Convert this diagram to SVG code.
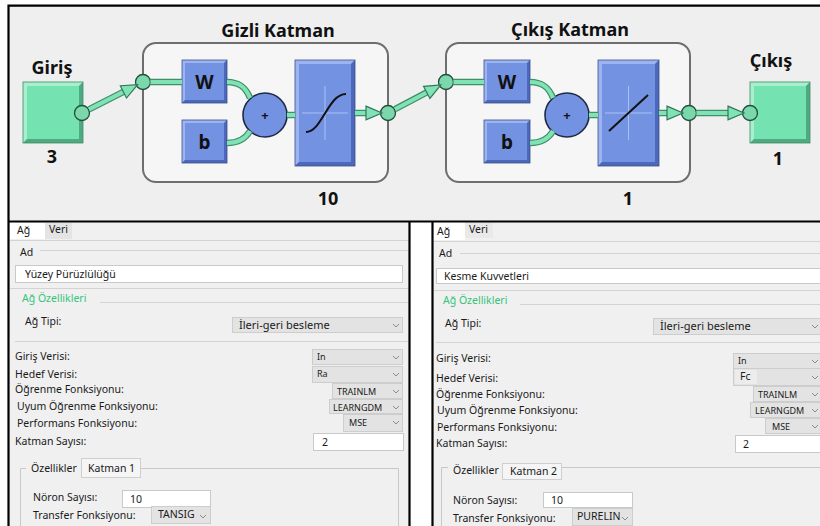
<svg xmlns="http://www.w3.org/2000/svg" width="820" height="526" viewBox="0 0 820 526">
<style>
.bg{fill:#efefef}
.panel{fill:#f0f0f0}
.bl{stroke:#000;stroke-width:2.2;fill:none}
.layer{fill:#f6f6f6;stroke:#6e6e6e;stroke-width:2}
.gface{fill:#74e2b1}
.ghi{fill:#a6f0cd}
.gsh{fill:#4eab80}
.gout{fill:none;stroke:#3f8c68;stroke-width:0.8}
.bface{fill:#7393e2}
.bhi{fill:#9db4f1}
.bsh{fill:#4c68ba}
.bout{fill:none;stroke:#3b4f8c;stroke-width:0.8}
.edge{fill:none;stroke:#3f8f69;stroke-width:6.5}
.wire{fill:none;stroke:#80e2b5;stroke-width:4}
.port{fill:#7bd8ac;stroke:#234d3a;stroke-width:1.3}
.sum{fill:#7393e2;stroke:#1f2a44;stroke-width:1.6}
.xh{stroke:#aac0f3;stroke-width:1}
.fn{fill:none;stroke:#111;stroke-width:2}
.title{font-family:"Noto Sans","Open Sans",sans-serif;font-weight:bold;font-size:18px;fill:#111;text-anchor:middle}
.sym{font-family:"Noto Sans","Open Sans",sans-serif;font-weight:bold;font-size:19px;fill:#111;text-anchor:middle}
.plus{font-family:"Noto Sans",sans-serif;font-weight:bold;font-size:13px;fill:#111;text-anchor:middle}
.ui{font-family:"Noto Sans","Open Sans",sans-serif;font-size:10.5px;fill:#1a1a1a}
.uim{font-family:"Noto Sans","Open Sans",sans-serif;font-size:11px;fill:#1a1a1a}
.uis{font-family:"Noto Sans","Open Sans",sans-serif;font-size:9px;fill:#1a1a1a}
.grn{font-family:"Noto Sans","Open Sans",sans-serif;font-size:10.5px;fill:#35c47b}
.dd{fill:#e3e3e3;stroke:#cdcdcd;stroke-width:1}
.fld{fill:#fff;stroke:#c9c9c9;stroke-width:1}
.tab{fill:#f5f5f5;stroke:#cfcfcf;stroke-width:1}
.sep{stroke:#d3d3d3;stroke-width:1;fill:none}
.grp{stroke:#c8c8c8;stroke-width:1;fill:none}
.chev{fill:none;stroke:#8c8c8c;stroke-width:1}
</style>
<defs>
<marker id="arr" markerUnits="userSpaceOnUse" markerWidth="16" markerHeight="14" viewBox="0 0 14 12" refX="0" refY="6" orient="auto" overflow="visible">
<path d="M0,0 L14,6 L0,12 z" fill="#80e2b5" stroke="#2f7556" stroke-width="1"/>
</marker>
</defs>
<rect x="0" y="0" width="820" height="526" fill="#fff"/>
<rect class="bg" x="9" y="6" width="811" height="215"/>

<g id="input">
<text class="title" x="52" y="74">Giriş</text>
<rect class="gface" x="23" y="82" width="60" height="61"/>
<polygon class="ghi" points="23,82 83,82 79,86 27,86 27,139 23,143"/>
<polygon class="gsh" points="83,143 23,143 27,139 79,139 79,86 83,82"/>
<rect class="gout" x="23" y="82" width="60" height="61"/>
<circle class="port" cx="82" cy="113" r="7.5"/>
<text class="title" x="52" y="163">3</text>
</g>

<g id="hidden-layer">
<text class="title" x="278" y="37">Gizli Katman</text>
<rect class="layer" x="143" y="43" width="245" height="139" rx="13"/>
<circle class="port" cx="143" cy="82" r="7.5"/>
<g id="w1">
<rect class="bface" x="182" y="60" width="45" height="43"/>
<polygon class="bhi" points="182,60 227,60 224,63 185,63 185,100 182,103"/>
<polygon class="bsh" points="227,103 182,103 185,100 224,100 224,63 227,60"/>
<rect class="bout" x="182" y="60" width="45" height="43"/>
<text class="sym" x="204.5" y="89">W</text>
</g>
<g id="b1">
<rect class="bface" x="182" y="120" width="45" height="43"/>
<polygon class="bhi" points="182,120 227,120 224,123 185,123 185,160 182,163"/>
<polygon class="bsh" points="227,163 182,163 185,160 224,160 224,123 227,120"/>
<rect class="bout" x="182" y="120" width="45" height="43"/>
<text class="sym" x="204.5" y="149">b</text>
</g>
<g id="sum1">
<circle class="sum" cx="265" cy="115" r="22"/>
<text class="plus" x="265" y="120">+</text>
</g>
<g id="tansig">
<rect class="bface" x="295" y="60" width="60" height="106"/>
<polygon class="bhi" points="295,60 355,60 351,64 299,64 299,162 295,166"/>
<polygon class="bsh" points="355,166 295,166 299,162 351,162 351,64 355,60"/>
<rect class="bout" x="295" y="60" width="60" height="106"/>
<line class="xh" x1="325" y1="86" x2="325" y2="140"/>
<line class="xh" x1="302" y1="113" x2="348" y2="113"/>
<path class="fn" d="M306,132 C322,132 328,94 346,94"/>
</g>
<circle class="port" cx="388" cy="113" r="7.5"/>
<text class="title" x="328" y="205">10</text>
</g>

<g id="output-layer">
<text class="title" x="570" y="36">Çıkış Katman</text>
<rect class="layer" x="446" y="43" width="244" height="139" rx="13"/>
<circle class="port" cx="446" cy="82" r="7.5"/>
<g id="w2">
<rect class="bface" x="484" y="60" width="46" height="43"/>
<polygon class="bhi" points="484,60 530,60 527,63 487,63 487,100 484,103"/>
<polygon class="bsh" points="530,103 484,103 487,100 527,100 527,63 530,60"/>
<rect class="bout" x="484" y="60" width="46" height="43"/>
<text class="sym" x="507" y="89">W</text>
</g>
<g id="b2">
<rect class="bface" x="484" y="120" width="46" height="43"/>
<polygon class="bhi" points="484,120 530,120 527,123 487,123 487,160 484,163"/>
<polygon class="bsh" points="530,163 484,163 487,160 527,160 527,123 530,120"/>
<rect class="bout" x="484" y="120" width="46" height="43"/>
<text class="sym" x="507" y="149">b</text>
</g>
<g id="sum2">
<circle class="sum" cx="567" cy="115" r="22"/>
<text class="plus" x="567" y="120">+</text>
</g>
<g id="purelin">
<rect class="bface" x="598" y="60" width="61" height="106"/>
<polygon class="bhi" points="598,60 659,60 655,64 602,64 602,162 598,166"/>
<polygon class="bsh" points="659,166 598,166 602,162 655,162 655,64 659,60"/>
<rect class="bout" x="598" y="60" width="61" height="106"/>
<line class="xh" x1="628.5" y1="86" x2="628.5" y2="140"/>
<line class="xh" x1="605" y1="113" x2="652" y2="113"/>
<path class="fn" d="M609,131 L648,95"/>
</g>
<circle class="port" cx="689" cy="113" r="7.5"/>
<text class="title" x="628" y="205">1</text>
</g>

<g id="output">
<text class="title" x="771" y="67">Çıkış</text>
<rect class="gface" x="750" y="82" width="60" height="61"/>
<polygon class="ghi" points="750,82 810,82 806,86 754,86 754,139 750,143"/>
<polygon class="gsh" points="810,143 750,143 754,139 806,139 806,86 810,82"/>
<rect class="gout" x="750" y="82" width="60" height="61"/>
<circle class="port" cx="750" cy="113" r="7.5"/>
<text class="title" x="778" y="165">1</text>
</g>

<g id="connectors">
<path class="edge" d="M89,109.4 L123.4,91.9"/><path class="wire" d="M89,109.4 L123.4,91.9" marker-end="url(#arr)"/>
<path class="edge" d="M150.5,82 L182,82"/><path class="wire" d="M150.5,82 L182,82"/>
<path class="edge" d="M227,82 C240,82 246,88 250,98"/><path class="wire" d="M227,82 C240,82 246,88 250,98"/>
<path class="edge" d="M227,143 C240,143 246,138 250,131"/><path class="wire" d="M227,143 C240,143 246,138 250,131"/>
<path class="edge" d="M287,115 L295,115"/><path class="wire" d="M287,115 L295,115"/>
<path class="edge" d="M355,113 L366,113"/><path class="wire" d="M355,113 L366,113" marker-end="url(#arr)"/>
<path class="edge" d="M395,109.2 L426.7,92.4"/><path class="wire" d="M395,109.2 L426.7,92.4" marker-end="url(#arr)"/>
<path class="edge" d="M453.5,82 L484,82"/><path class="wire" d="M453.5,82 L484,82"/>
<path class="edge" d="M530,82 C543,82 549,88 553,98"/><path class="wire" d="M530,82 C543,82 549,88 553,98"/>
<path class="edge" d="M530,143 C543,143 549,138 553,131"/><path class="wire" d="M530,143 C543,143 549,138 553,131"/>
<path class="edge" d="M589,115 L598,115"/><path class="wire" d="M589,115 L598,115"/>
<path class="edge" d="M659,113 L667,113"/><path class="wire" d="M659,113 L667,113" marker-end="url(#arr)"/>
<path class="edge" d="M696.5,113 L728,113"/><path class="wire" d="M696.5,113 L728,113" marker-end="url(#arr)"/>
</g>

<!-- bottom panels -->
<rect class="panel" x="9" y="222" width="400" height="304"/>
<rect x="410" y="222" width="22" height="304" fill="#fff"/>
<rect class="panel" x="433" y="222" width="387" height="304"/>

<g id="left-panel">
<rect x="10" y="223" width="35" height="16" fill="#fff"/>
<rect x="45" y="223" width="27" height="16" fill="#e4e4e4"/>
<text class="ui" x="17" y="234">Ağ</text>
<text class="ui" x="49" y="233">Veri</text>
<line class="sep" x1="10" y1="240.5" x2="409" y2="240.5"/>
<text class="ui" x="20" y="256">Ad</text>
<line class="sep" x1="40" y1="250.5" x2="409" y2="250.5"/>
<rect class="fld" x="15.5" y="265.5" width="387" height="17"/>
<text class="ui" x="25" y="278">Yüzey Pürüzlülüğü</text>
<line class="sep" x1="10" y1="288.5" x2="409" y2="288.5"/>
<text class="grn" x="22" y="302">Ağ Özellikleri</text>
<line class="sep" x1="100" y1="302.5" x2="409" y2="302.5"/>
<text class="ui" x="25" y="325">Ağ Tipi:</text>
<rect class="dd" x="232.5" y="317.5" width="170" height="15"/>
<text class="uim" x="239" y="329">İleri-geri besleme</text>
<path class="chev" d="M393,324 L396,327 L399,324"/>
<line class="sep" x1="15" y1="341.5" x2="409" y2="341.5"/>
<text class="ui" x="15" y="360">Giriş Verisi:</text>
<rect class="dd" x="312.5" y="349.5" width="90" height="15"/>
<text class="uis" x="317" y="360">In</text>
<path class="chev" d="M393,356 L396,359 L399,356"/>
<text class="ui" x="15" y="378">Hedef Verisi:</text>
<rect class="dd" x="312.5" y="366.5" width="90" height="16"/>
<text class="uis" x="317" y="377">Ra</text>
<path class="chev" d="M393,373 L396,376 L399,373"/>
<text class="ui" x="15" y="393">Öğrenme Fonksiyonu:</text>
<rect class="dd" x="332.5" y="383.5" width="70" height="15"/>
<text class="uis" x="337" y="395">TRAINLM</text>
<path class="chev" d="M393,390 L396,393 L399,390"/>
<text class="ui" x="17" y="410">Uyum Öğrenme Fonksiyonu:</text>
<rect class="dd" x="329.5" y="399.5" width="73" height="14"/>
<text class="uis" x="333" y="411">LEARNGDM</text>
<path class="chev" d="M393,406 L396,409 L399,406"/>
<text class="ui" x="17" y="427">Performans Fonksiyonu:</text>
<rect class="dd" x="343.5" y="414.5" width="59" height="17"/>
<text class="uis" x="349" y="426">MSE</text>
<path class="chev" d="M393,421 L396,424 L399,421"/>
<text class="ui" x="15" y="445">Katman Sayısı:</text>
<rect class="fld" x="313.5" y="433.5" width="90" height="17"/>
<text class="ui" x="322" y="446">2</text>
<path class="grp" d="M20.5,526 V468.5 H26"/>
<text class="ui" x="31" y="472">Özellikler</text>
<rect class="tab" x="81.5" y="458.5" width="59" height="19"/>
<text class="ui" x="88" y="472">Katman 1</text>
<path class="grp" d="M140.5,468.5 H398.5 V526"/>
<text class="ui" x="33" y="501">Nöron Sayısı:</text>
<rect class="fld" x="122.5" y="490.5" width="88" height="17"/>
<text class="ui" x="130" y="503">10</text>
<text class="ui" x="33" y="519">Transfer Fonksiyonu:</text>
<rect class="dd" x="151.5" y="506.5" width="59" height="17"/>
<text class="ui" x="158" y="518">TANSIG</text>
<path class="chev" d="M200,515 L203,518 L206,515"/>
</g>

<g id="right-panel">
<rect x="433" y="222" width="32" height="18" fill="#fff"/>
<rect x="465" y="222" width="28" height="16" fill="#e9e9e9"/>
<text class="ui" x="437" y="235">Ağ</text>
<text class="ui" x="469" y="233">Veri</text>
<line class="sep" x1="433" y1="241.5" x2="820" y2="241.5"/>
<text class="ui" x="439" y="257">Ad</text>
<line class="sep" x1="460" y1="253.5" x2="820" y2="253.5"/>
<rect class="fld" x="436.5" y="268.5" width="384" height="15"/>
<text class="ui" x="444" y="280">Kesme Kuvvetleri</text>
<line class="sep" x1="433" y1="290.5" x2="820" y2="290.5"/>
<text class="grn" x="443" y="304">Ağ Özellikleri</text>
<line class="sep" x1="520" y1="304.5" x2="820" y2="304.5"/>
<text class="ui" x="445" y="327">Ağ Tipi:</text>
<rect class="dd" x="653.5" y="318.5" width="170" height="16"/>
<text class="uim" x="660" y="330">İleri-geri besleme</text>
<path class="chev" d="M812,325 L815,328 L818,325"/>
<line class="sep" x1="436" y1="342.5" x2="820" y2="342.5"/>
<text class="ui" x="436" y="362">Giriş Verisi:</text>
<rect class="dd" x="733.5" y="353.5" width="90" height="15"/>
<text class="uis" x="738" y="364">In</text>
<path class="chev" d="M812,360 L815,363 L818,360"/>
<text class="ui" x="436" y="382">Hedef Verisi:</text>
<rect class="dd" x="733.5" y="368.5" width="90" height="17"/>
<rect x="735" y="370" width="22" height="14" fill="#ececec"/>
<text class="ui" x="740" y="380">Fc</text>
<path class="chev" d="M812,376 L815,379 L818,376"/>
<text class="ui" x="436" y="398">Öğrenme Fonksiyonu:</text>
<rect class="dd" x="753.5" y="386.5" width="70" height="15"/>
<text class="uis" x="758" y="398">TRAINLM</text>
<path class="chev" d="M812,393 L815,396 L818,393"/>
<text class="ui" x="437" y="414">Uyum Öğrenme Fonksiyonu:</text>
<rect class="dd" x="750.5" y="402.5" width="73" height="15"/>
<text class="uis" x="755" y="414">LEARNGDM</text>
<path class="chev" d="M812,409 L815,412 L818,409"/>
<text class="ui" x="437" y="431">Performans Fonksiyonu:</text>
<rect class="dd" x="765.5" y="418.5" width="59" height="15"/>
<text class="uis" x="772" y="430">MSE</text>
<path class="chev" d="M812,425 L815,428 L818,425"/>
<text class="ui" x="436" y="447">Katman Sayısı:</text>
<rect class="fld" x="735.5" y="435.5" width="90" height="17"/>
<text class="ui" x="743" y="448">2</text>
<path class="grp" d="M441.5,526 V467.5 H448"/>
<text class="ui" x="453" y="474">Özellikler</text>
<rect class="tab" x="502.5" y="463.5" width="59" height="16"/>
<text class="ui" x="510" y="475">Katman 2</text>
<path class="grp" d="M561.5,467.5 H820"/>
<text class="ui" x="453" y="504">Nöron Sayısı:</text>
<rect class="fld" x="543.5" y="492.5" width="89" height="15"/>
<text class="ui" x="551" y="504">10</text>
<text class="ui" x="453" y="522">Transfer Fonksiyonu:</text>
<rect class="dd" x="572.5" y="508.5" width="60" height="17"/>
<text class="ui" x="577" y="520">PURELIN</text>
<path class="chev" d="M622,517 L625,520 L628,517"/>
</g>

<g id="borders">
<path class="bl" d="M8.5,526 V5.6 H820"/>
<path class="bl" d="M8,221.5 H820"/>
<path class="bl" d="M409.5,221 V526"/>
<path class="bl" d="M432.5,221 V526"/>
</g>
</svg>
